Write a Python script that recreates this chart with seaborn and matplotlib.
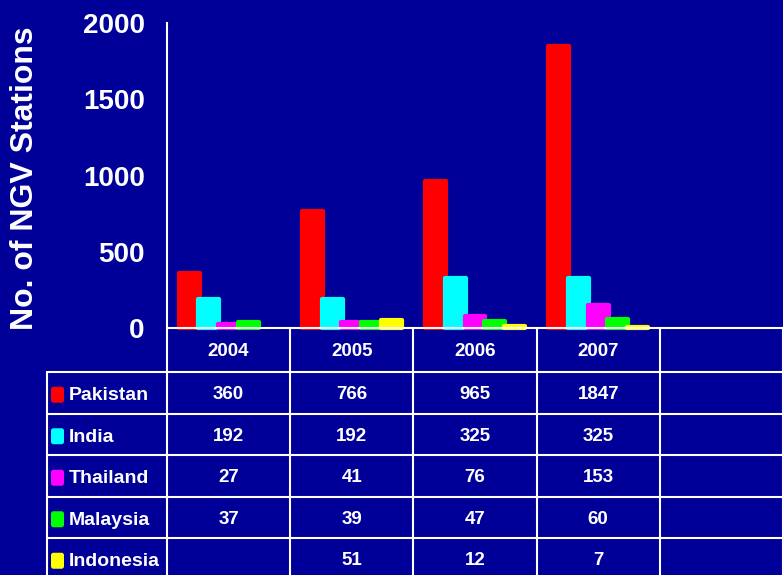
import matplotlib
matplotlib.use('Agg')
import matplotlib.pyplot as plt
import pandas as pd
import numpy as np
import seaborn as sns
from matplotlib.patches import FancyBboxPatch

years = ['2004', '2005', '2006', '2007']
countries = ['Pakistan', 'India', 'Thailand', 'Malaysia', 'Indonesia']
colors = ['#ff0000', '#00ffff', '#ff00ff', '#00ff00', '#ffff00']
pakistan = [360, 766, 965, 1847]
india = [192, 192, 325, 325]
thailand = [27, 41, 76, 153]
malaysia = [37, 39, 47, 60]
indonesia = [None, 51, 12, 7]
yticks = [0, 500, 1000, 1500, 2000]

bg = '#000099'
font = ['Liberation Sans', 'DejaVu Sans']

sns.set_style('dark')
plt.rcParams['font.family'] = font
plt.rcParams['font.weight'] = 'bold'

series = [pakistan, india, thailand, malaysia, indonesia]
rows = []
for name, vals in zip(countries, series):
    for yr, v in zip(years, vals):
        rows.append({'year': yr, 'country': name, 'value': np.nan if v is None else v})
df = pd.DataFrame(rows)

fig = plt.figure(figsize=(7.83, 5.75), dpi=100)
fig.patch.set_facecolor(bg)
W, H = 783, 575

# main axes: left edge 167px, zero line at 328px, 2000 at 23px
ax = fig.add_axes([167 / W, (H - 328) / H, 1 - 167 / W, (328 - 23) / H])
ax.set_facecolor(bg)
sns.barplot(data=df, x='year', y='value', hue='country', order=years,
            hue_order=countries, palette=colors, saturation=1, width=0.8,
            legend=False, ax=ax, zorder=2)

# widen bars slightly so neighbours overlap, soft rounded edges like the original
for p in ax.patches:
    cx = p.get_x() + p.get_width() / 2
    p.set_width(0.17)
    p.set_x(cx - 0.085)
    p.set_edgecolor(p.get_facecolor())
    p.set_linewidth(3)
    p.set_joinstyle('round')
    p.set_clip_on(False)

ax.set_xlim(-0.5, 4.5)
ax.set_ylim(0, 2000)
ax.set_yticks(yticks)
ax.set_yticklabels([str(t) for t in yticks], fontsize=20, fontweight='bold', color='white')
ax.tick_params(axis='y', direction='out', length=6, width=1.5, color='white', pad=10)
ax.tick_params(axis='x', length=0, labelbottom=False)
ax.set_xlabel('')
ax.set_ylabel('')
ax.grid(False)
for side in ['top', 'right']:
    ax.spines[side].set_visible(False)
for side in ['left', 'bottom']:
    ax.spines[side].set_visible(True)
    ax.spines[side].set_color('white')
    ax.spines[side].set_linewidth(1.5)
    ax.spines[side].set_zorder(3)

fig.text(25 / W, 1 - 178 / H, 'No. of NGV Stations', rotation=90, ha='center', va='center',
         fontsize=23, fontweight='bold', color='white')

# data table drawn under the axes in figure pixels
tab = fig.add_axes([0, 0, 1, 1], zorder=-1)
tab.set_xlim(0, W)
tab.set_ylim(H, 0)
tab.axis('off')
tab.patch.set_visible(False)

fig.canvas.draw()
def px(xd):
    return ax.transData.transform((xd, 0))[0]

bounds = [px(i - 0.5) for i in range(len(years) + 2)]
centers = [px(i) for i in range(len(years))]
header_top, header_bot = 328, 372
row_h = 41.5
lab_left = 47
lw = 1.5

# header row
for b in bounds:
    tab.plot([b, b], [header_top, H], color='white', lw=lw, solid_capstyle='butt')
for yr, c in zip(years, centers):
    tab.text(c, (header_top + header_bot) / 2 + 2, yr, ha='center', va='center',
             fontsize=13.5, fontweight='bold', color='white')

tab.plot([lab_left, lab_left], [header_bot, H], color='white', lw=lw)
for r, (name, vals, col) in enumerate(zip(countries, series, colors)):
    top = header_bot + r * row_h
    tab.plot([lab_left, W], [top, top], color='white', lw=lw)
    mid = top + row_h / 2 + 2
    tab.add_patch(FancyBboxPatch((51, mid - 8), 13, 16, boxstyle='round,pad=0,rounding_size=2.5',
                                 fc=col, ec='none'))
    tab.text(69, mid + 1, name, ha='left', va='center', fontsize=14,
             fontweight='bold', color='white')
    for v, c in zip(vals, centers):
        if v is not None:
            tab.text(c, mid, str(v), ha='center', va='center', fontsize=13.5,
                     fontweight='bold', color='white')

fig.savefig('out.png', dpi=100, facecolor=bg)
